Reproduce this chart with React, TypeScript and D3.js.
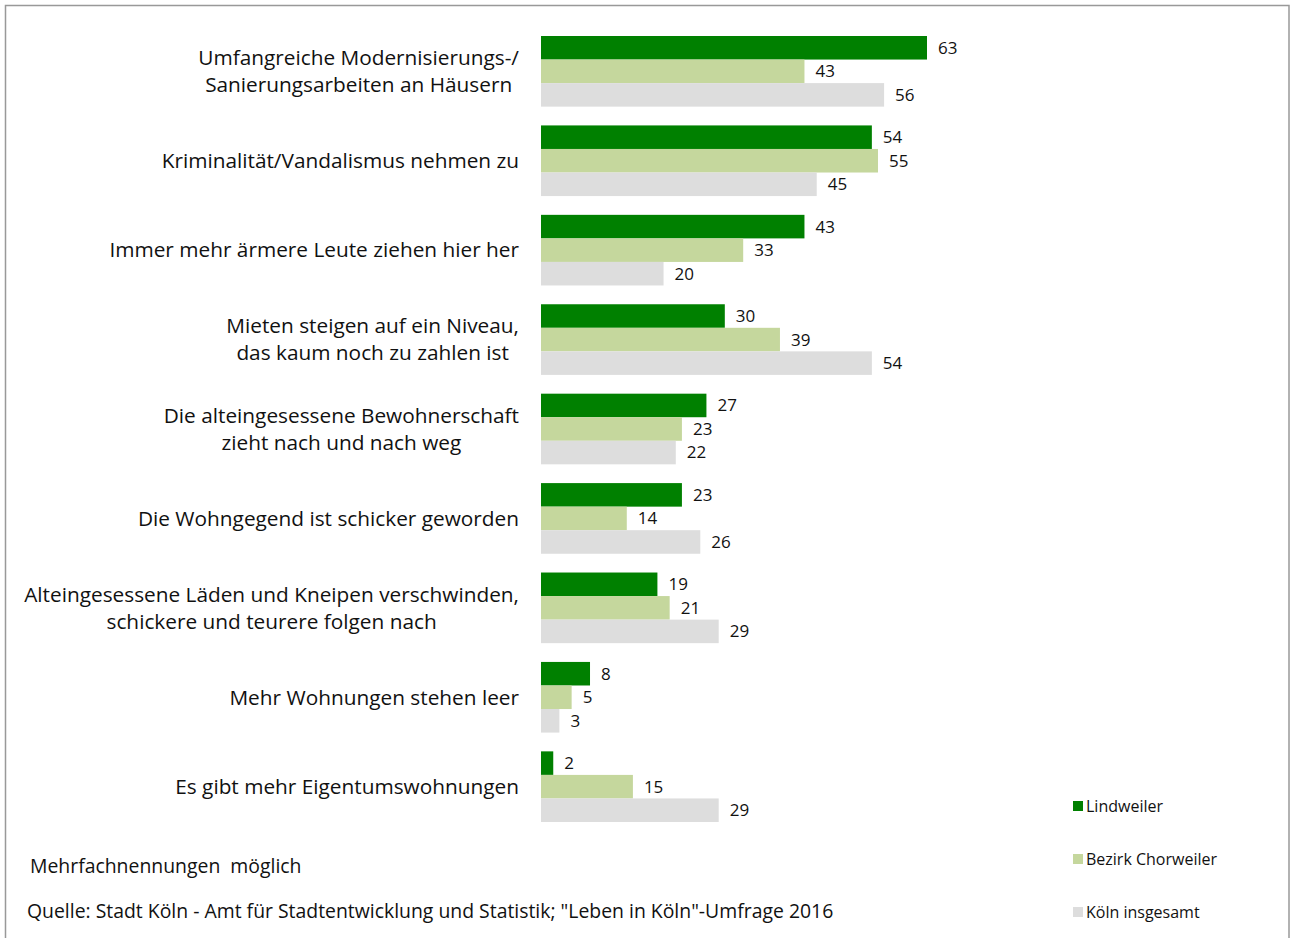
import { useEffect, useRef } from "react";
import * as d3 from "d3";

const categories = [
  ["Umfangreiche Modernisierungs-/", "Sanierungsarbeiten an Häusern"],
  ["Kriminalität/Vandalismus nehmen zu"],
  ["Immer mehr ärmere Leute ziehen hier her"],
  ["Mieten steigen auf ein Niveau,", "das kaum noch zu zahlen ist"],
  ["Die alteingesessene Bewohnerschaft", "zieht nach und nach weg"],
  ["Die Wohngegend ist schicker geworden"],
  ["Alteingesessene Läden und Kneipen verschwinden,", "schickere und teurere folgen nach"],
  ["Mehr Wohnungen stehen leer"],
  ["Es gibt mehr Eigentumswohnungen"]
];

const seriesNames = ["Lindweiler", "Bezirk Chorweiler", "Köln insgesamt"];
const lindweiler = [63, 54, 43, 30, 27, 23, 19, 8, 2];
const chorweiler = [43, 55, 33, 39, 23, 14, 21, 5, 15];
const koeln = [56, 45, 20, 54, 22, 26, 29, 3, 29];

const noteText = "Mehrfachnennungen  möglich";
const sourceText = 'Quelle: Stadt Köln - Amt für Stadtentwicklung und Statistik; "Leben in Köln"-Umfrage 2016';

const colors = ["#008000", "#c5d79d", "#dddddd"];
const font = "'Open Sans', sans-serif";

export default function App() {
  const svgRef = useRef<SVGSVGElement>(null);

  useEffect(() => {
    const svg = d3.select(svgRef.current);
    svg.selectAll("*").remove();

    const width = 1290;
    const height = 938;
    const series = [lindweiler, chorweiler, koeln];

    svg
      .append("rect")
      .attr("x", 5.5)
      .attr("y", 5.5)
      .attr("width", 1283.5)
      .attr("height", 960)
      .attr("fill", "#fff")
      .attr("stroke", "#999")
      .attr("stroke-width", 1.5);

    const x = d3.scaleLinear().domain([0, 63]).range([541, 927]);
    const y = d3
      .scaleBand<number>()
      .domain(d3.range(categories.length))
      .range([36, 822])
      .paddingInner(0.21);
    const inner = d3
      .scaleBand<number>()
      .domain(d3.range(series.length))
      .range([0, y.bandwidth()]);

    const groups = svg
      .append("g")
      .selectAll("g")
      .data(categories)
      .join("g")
      .attr("transform", (_, i) => `translate(0,${y(i)})`);

    series.forEach((vals, s) => {
      groups
        .append("rect")
        .attr("x", x(0))
        .attr("y", inner(s)!)
        .attr("width", (_, i) => x(vals[i]) - x(0))
        .attr("height", inner.bandwidth())
        .attr("fill", colors[s]);
      groups
        .append("text")
        .attr("x", (_, i) => x(vals[i]) + 11)
        .attr("y", inner(s)! + inner.bandwidth() / 2)
        .attr("dy", "0.35em")
        .attr("font-family", font)
        .attr("font-size", 17)
        .attr("fill", "#111")
        .text((_, i) => vals[i]);
    });

    // category labels: centred lines inside a block right-aligned at 519
    const lineH = 27;
    groups.each(function (lines) {
      const g = d3.select(this);
      const mid = y.bandwidth() / 2;
      const texts = lines.map((line, k) =>
        g
          .append("text")
          .attr("y", mid + (k - (lines.length - 1) / 2) * lineH)
          .attr("dy", "0.35em")
          .attr("text-anchor", "middle")
          .attr("font-family", font)
          .attr("font-size", 20.8)
          .attr("fill", "#111")
          .text(line)
      );
      const maxW = d3.max(texts, (t) => (t.node() as SVGTextElement).getComputedTextLength()) || 0;
      texts.forEach((t) => t.attr("x", 519 - maxW / 2));
    });

    const legend = svg
      .append("g")
      .selectAll("g")
      .data(seriesNames)
      .join("g")
      .attr("transform", (_, i) => `translate(1073,${806 + i * 53})`);
    legend
      .append("rect")
      .attr("y", -5)
      .attr("width", 10)
      .attr("height", 10)
      .attr("fill", (_, i) => colors[i]);
    legend
      .append("text")
      .attr("x", 13)
      .attr("dy", "0.35em")
      .attr("font-family", font)
      .attr("font-size", 16)
      .attr("fill", "#111")
      .text((d) => d);

    svg
      .append("text")
      .attr("x", 30)
      .attr("y", 866)
      .attr("dy", "0.35em")
      .attr("font-family", font)
      .attr("font-size", 19.4)
      .attr("fill", "#111")
      .style("white-space", "pre")
      .text(noteText);
    svg
      .append("text")
      .attr("x", 27)
      .attr("y", 911)
      .attr("dy", "0.35em")
      .attr("font-family", font)
      .attr("font-size", 19.4)
      .attr("fill", "#111")
      .text(sourceText);

    svg.attr("width", width).attr("height", height);
  }, []);

  return (
    <svg
      ref={svgRef}
      width={1290}
      height={938}
      style={{ position: "absolute", left: 0, top: 0, background: "#fff" }}
    />
  );
}
